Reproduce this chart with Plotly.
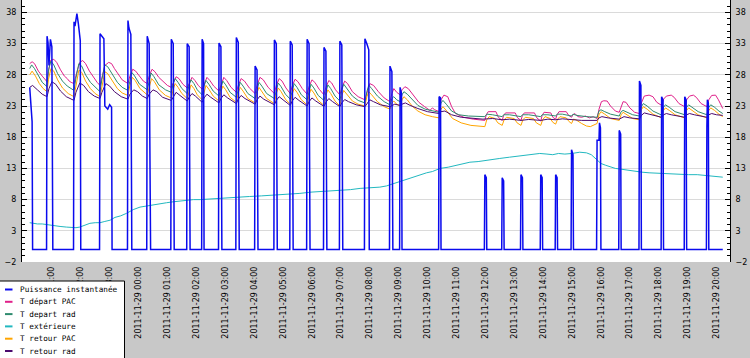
import pandas as pd
import plotly.graph_objects as go

START = pd.Timestamp("2011-11-28 20:00")

series_names = ["Puissance instantanée", "T départ PAC", "T depart rad",
                "T extérieure", "T retour PAC", "T retour rad"]
series_colors = ["#0a0aee", "#e0208a", "#2e8b6e", "#22b8c0", "#ffa500", "#4b0a6e"]

# (minutes after 2011-11-28 20:00, value)
puissance = [
    (14, 26.0), (16, 23.5), (18, 21.5), (19, 20.5), (20, 0.0), (49, 0.0),
    (50, 34.2), (52, 33.2), (54, 29.5), (57, 33.7), (60, 32.5), (62, 0.0), (105, 0.0),
    (106, 36.5), (108, 35.8), (110, 36.8), (112, 37.8), (115, 36.2), (117, 35.0), (119, 33.5), (120, 0.0), (159, 0.0),
    (160, 34.6), (164, 34.2), (168, 33.8), (170, 23.0), (176, 22.5), (180, 23.2), (184, 22.8), (185, 0.0), (217, 0.0),
    (218, 36.7), (220, 35.5), (224, 34.5), (226, 0.0), (257, 0.0),
    (258, 34.2), (262, 33.0), (265, 0.0), (307, 0.0),
    (308, 33.7), (312, 33.0), (314, 0.0), (340, 0.0),
    (341, 33.0), (345, 32.5), (347, 0.0), (371, 0.0),
    (372, 33.7), (375, 33.0), (376, 0.0), (406, 0.0),
    (407, 33.1), (411, 32.5), (413, 0.0), (442, 0.0),
    (443, 34.0), (447, 33.2), (449, 0.0), (481, 0.0),
    (482, 29.4), (486, 28.8), (488, 0.0), (521, 0.0),
    (522, 33.6), (526, 33.0), (528, 0.0), (554, 0.0),
    (555, 33.4), (559, 32.8), (561, 0.0), (589, 0.0),
    (590, 33.7), (594, 33.0), (596, 0.0), (624, 0.0),
    (625, 32.4), (629, 31.8), (631, 0.0), (657, 0.0),
    (658, 33.4), (662, 32.8), (664, 0.0), (709, 0.0),
    (710, 33.8), (714, 33.0), (718, 32.0), (719, 0.0), (761, 0.0),
    (762, 29.4), (766, 28.5), (768, 0.0), (782, 0.0),
    (783, 26.0), (786, 25.0), (787, 0.0), (863, 0.0),
    (864, 24.5), (867, 24.3), (868, 0.0), (958, 0.0),
    (959, 12.0), (962, 11.5), (963, 0.0), (994, 0.0),
    (995, 11.5), (998, 11.0), (999, 0.0), (1033, 0.0),
    (1034, 12.0), (1037, 11.5), (1038, 0.0), (1074, 0.0),
    (1075, 12.0), (1078, 11.5), (1079, 0.0), (1105, 0.0),
    (1106, 12.0), (1109, 11.5), (1110, 0.0), (1138, 0.0),
    (1139, 16.0), (1142, 15.2), (1143, 0.0), (1191, 0.0),
    (1192, 17.5), (1196, 17.5), (1197, 20.3), (1199, 19.5), (1200, 0.0), (1237, 0.0),
    (1238, 19.1), (1241, 18.5), (1242, 0.0), (1279, 0.0),
    (1280, 27.0), (1283, 26.3), (1284, 0.0), (1325, 0.0),
    (1326, 24.5), (1329, 24.0), (1330, 0.0), (1373, 0.0),
    (1374, 24.5), (1377, 24.0), (1378, 0.0), (1419, 0.0),
    (1420, 19.7), (1421, 24.0), (1423, 23.5), (1424, 0.0), (1453, 0.0),
]

t_depart_pac = [
    (14, 29.8), (19, 30.1), (24, 29.8), (32, 28.6), (40, 27.8), (46, 27.3), (50, 26.9),
    (53, 28.5), (57, 30.3), (64, 30.5), (70, 30.0), (78, 28.8), (86, 27.8), (92, 27.4), (96, 27.0), (100, 26.8), (106, 26.6),
    (112, 28.5), (118, 30.0), (124, 30.3), (130, 29.8), (138, 28.6), (146, 27.6), (154, 26.8), (160, 26.3),
    (164, 27.5), (170, 29.5), (178, 30.0), (184, 29.8), (190, 29.0), (198, 28.0), (206, 27.2), (214, 26.8), (218, 26.6),
    (222, 27.8), (228, 28.9), (234, 28.6), (242, 27.7), (250, 27.0), (258, 26.6),
    (262, 27.8), (268, 28.9), (274, 28.5), (282, 27.6), (292, 26.8), (300, 26.3), (308, 26.0),
    (312, 26.8), (318, 27.7), (324, 27.4), (332, 26.5), (341, 25.9),
    (345, 26.6), (351, 27.6), (357, 27.1), (364, 26.3), (372, 25.7),
    (376, 26.5), (382, 27.6), (388, 27.1), (396, 26.2), (407, 25.4),
    (411, 26.4), (417, 27.6), (423, 27.1), (432, 26.0), (443, 25.2),
    (447, 26.3), (453, 27.4), (460, 27.0), (470, 25.9), (482, 25.0),
    (486, 26.3), (492, 27.6), (499, 27.2), (509, 26.0), (522, 25.0),
    (526, 26.3), (532, 27.4), (538, 27.0), (546, 25.9), (555, 25.0),
    (559, 26.2), (565, 27.3), (571, 26.9), (580, 25.8), (590, 24.9),
    (594, 26.1), (600, 27.2), (606, 26.8), (615, 25.7), (625, 24.8),
    (629, 26.0), (635, 27.1), (641, 26.7), (649, 25.6), (658, 24.8),
    (662, 25.9), (668, 27.0), (674, 26.6), (684, 25.3), (696, 24.5), (710, 24.0),
    (714, 25.2), (720, 26.6), (728, 26.3), (738, 25.3), (750, 24.3), (762, 23.7),
    (766, 25.0), (770, 25.8), (776, 25.2), (783, 24.8),
    (787, 25.6), (793, 26.1), (800, 25.8), (810, 24.8), (822, 23.6), (834, 22.9), (845, 22.3), (850, 22.7), (855, 22.4), (864, 22.1),
    (868, 24.0), (874, 24.75), (882, 24.5), (890, 22.9), (898, 21.8), (915, 21.2), (935, 20.9), (959, 20.7),
    (962, 21.6), (966, 22.1), (982, 22.1), (987, 21.2), (995, 20.7),
    (998, 21.5), (1002, 21.9), (1022, 21.9), (1027, 21.1), (1034, 20.7),
    (1037, 21.5), (1041, 21.9), (1062, 21.9), (1067, 21.1), (1075, 20.6),
    (1078, 21.5), (1082, 22.0), (1096, 21.9), (1100, 21.2), (1106, 20.9),
    (1109, 21.6), (1113, 22.1), (1128, 22.1), (1133, 21.5), (1139, 21.2),
    (1142, 21.6), (1146, 21.8), (1152, 21.3), (1160, 21.2), (1168, 21.4), (1176, 21.1), (1184, 21.3), (1192, 21.0),
    (1196, 22.5), (1201, 23.7), (1206, 23.85), (1213, 23.8), (1220, 23.0), (1230, 22.2), (1238, 22.0),
    (1242, 23.0), (1246, 23.7), (1252, 23.6), (1260, 22.7), (1270, 22.0), (1280, 21.8),
    (1284, 23.5), (1290, 24.6), (1300, 24.75), (1308, 24.5), (1316, 23.6), (1326, 23.1),
    (1330, 24.1), (1336, 24.6), (1346, 24.75), (1352, 24.4), (1362, 23.4), (1374, 22.9),
    (1378, 24.0), (1384, 24.6), (1392, 24.75), (1398, 24.4), (1408, 23.4), (1420, 22.9),
    (1424, 24.0), (1430, 24.7), (1438, 24.75), (1444, 24.0), (1453, 22.6),
]

t_depart_rad = [
    (14, 29.0), (18, 29.6), (24, 29.0), (32, 27.8), (40, 26.8), (50, 26.1),
    (53, 28.8), (58, 30.2), (64, 29.6), (72, 28.2), (82, 27.0), (92, 26.2), (106, 25.5),
    (110, 27.5), (116, 29.8), (122, 29.4), (130, 28.0), (140, 26.8), (150, 26.0), (160, 25.3),
    (164, 27.3), (170, 29.6), (176, 29.3), (186, 28.0), (196, 26.8), (206, 26.0), (218, 25.5),
    (222, 27.0), (226, 28.4), (232, 27.8), (242, 26.5), (258, 25.6),
    (262, 27.0), (266, 28.3), (272, 27.7), (282, 26.4), (296, 25.6), (308, 25.2),
    (312, 26.6), (316, 27.4), (322, 26.8), (330, 25.8), (341, 25.0),
    (345, 26.4), (349, 27.2), (355, 26.6), (362, 25.6), (372, 24.8),
    (376, 26.2), (380, 27.1), (386, 26.5), (395, 25.4), (407, 24.6),
    (411, 26.0), (415, 27.0), (421, 26.4), (430, 25.2), (443, 24.4),
    (447, 25.8), (451, 26.8), (457, 26.2), (467, 25.0), (482, 24.2),
    (486, 25.8), (490, 26.8), (496, 26.2), (506, 25.0), (522, 24.2),
    (526, 25.7), (530, 26.7), (536, 26.1), (545, 24.9), (555, 24.1),
    (559, 25.6), (563, 26.6), (569, 26.0), (578, 24.8), (590, 24.0),
    (594, 25.5), (598, 26.5), (604, 25.9), (613, 24.7), (625, 23.9),
    (629, 25.4), (633, 26.4), (639, 25.8), (648, 24.6), (658, 23.8),
    (662, 25.6), (666, 26.5), (672, 25.9), (684, 24.6), (696, 23.9), (710, 23.5),
    (714, 25.3), (718, 26.35), (724, 25.8), (736, 24.6), (750, 23.7), (762, 23.2),
    (766, 24.2), (770, 24.5), (776, 24.0), (783, 23.7),
    (787, 24.8), (791, 25.3), (798, 24.9), (808, 24.0), (820, 23.1), (835, 22.5), (850, 22.2), (864, 22.0),
    (868, 23.5), (872, 23.9), (880, 23.2), (890, 22.2), (905, 21.6), (925, 21.4), (959, 21.3),
    (963, 21.7), (975, 21.6), (995, 21.3),
    (998, 21.6), (1010, 21.6), (1034, 21.3),
    (1037, 21.6), (1050, 21.6), (1075, 21.3),
    (1078, 21.6), (1090, 21.6), (1106, 21.4),
    (1109, 21.7), (1120, 21.7), (1139, 21.4),
    (1142, 21.7), (1150, 21.5), (1170, 21.3), (1192, 21.2),
    (1196, 22.2), (1200, 22.4), (1208, 22.1), (1220, 21.7), (1238, 21.4),
    (1242, 22.1), (1246, 22.3), (1254, 22.0), (1266, 21.6), (1280, 21.4),
    (1284, 22.9), (1288, 23.4), (1296, 23.0), (1308, 22.2), (1326, 21.55),
    (1330, 22.8), (1334, 23.2), (1342, 22.8), (1354, 22.1), (1374, 21.6),
    (1378, 22.8), (1382, 23.2), (1390, 22.8), (1402, 22.1), (1420, 21.6),
    (1424, 22.8), (1428, 23.2), (1436, 22.8), (1445, 22.2), (1453, 21.8),
]

t_exterieure = [
    (14, 4.3), (22, 4.2), (30, 4.1), (40, 4.1), (56, 3.9), (66, 3.8), (77, 3.7), (90, 3.6),
    (100, 3.5), (110, 3.5), (118, 3.6), (128, 3.9), (139, 4.2), (150, 4.3), (160, 4.3), (170, 4.5),
    (181, 4.7), (191, 5.15), (203, 5.4), (215, 5.8), (229, 6.4), (243, 6.8), (257, 7.0), (271, 7.2),
    (285, 7.4), (298, 7.5), (312, 7.65), (326, 7.8), (340, 7.9), (354, 8.0), (368, 8.0), (385, 8.1),
    (400, 8.1), (415, 8.2), (430, 8.3), (450, 8.4), (470, 8.5), (495, 8.6), (520, 8.7), (548, 8.9),
    (575, 9.0), (598, 9.2), (620, 9.3), (640, 9.4), (660, 9.5), (680, 9.6), (700, 9.8), (720, 9.9),
    (741, 10.0), (755, 10.2), (770, 10.6), (785, 11.0), (800, 11.3), (812, 11.7), (825, 12.0),
    (838, 12.3), (850, 12.5), (866, 13.0), (883, 13.2), (900, 13.5), (914, 13.8), (928, 14.0),
    (945, 14.1), (960, 14.3), (975, 14.5), (990, 14.6), (1010, 14.8), (1030, 15.0), (1050, 15.2),
    (1073, 15.4), (1088, 15.3), (1100, 15.2), (1112, 15.4), (1125, 15.3), (1140, 15.4), (1156, 15.6),
    (1170, 15.5), (1180, 15.2), (1190, 14.5), (1200, 13.8), (1210, 13.5), (1220, 13.2), (1230, 13.0),
    (1240, 12.9), (1255, 12.7), (1270, 12.6), (1285, 12.4), (1300, 12.3), (1320, 12.2), (1340, 12.1),
    (1364, 12.0), (1382, 12.0), (1400, 12.0), (1415, 11.9), (1430, 11.8), (1442, 11.7), (1453, 11.6),
]

t_retour_pac = [
    (14, 28.0), (19, 28.6), (26, 27.8), (34, 26.6), (42, 25.8), (50, 25.3),
    (53, 27.3), (58, 29.0), (64, 28.6), (72, 27.2), (82, 25.9), (94, 25.0), (106, 24.5),
    (110, 26.5), (116, 28.75), (122, 28.4), (130, 27.0), (140, 25.8), (150, 25.0), (160, 24.5),
    (164, 26.4), (170, 28.5), (176, 28.2), (186, 27.0), (196, 25.8), (206, 25.1), (218, 24.7),
    (222, 26.3), (227, 27.6), (233, 27.1), (243, 25.8), (258, 24.8),
    (262, 26.2), (267, 27.4), (273, 26.9), (283, 25.6), (296, 24.7), (308, 24.3),
    (312, 25.7), (316, 26.6), (322, 26.0), (330, 25.0), (341, 24.2),
    (345, 25.5), (349, 26.4), (355, 25.8), (362, 24.8), (372, 24.0),
    (376, 25.4), (380, 26.3), (386, 25.7), (395, 24.6), (407, 23.8),
    (411, 25.3), (415, 26.2), (421, 25.6), (430, 24.4), (443, 23.6),
    (447, 25.1), (451, 26.0), (457, 25.4), (467, 24.2), (482, 23.5),
    (486, 25.1), (490, 26.0), (496, 25.4), (506, 24.2), (522, 23.4),
    (526, 25.0), (530, 25.9), (536, 25.3), (545, 24.1), (555, 23.3),
    (559, 24.9), (563, 25.8), (569, 25.2), (578, 24.0), (590, 23.2),
    (594, 24.8), (598, 25.7), (604, 25.1), (613, 23.9), (625, 23.1),
    (629, 24.7), (633, 25.6), (639, 25.0), (648, 23.8), (658, 23.0),
    (662, 24.7), (666, 25.5), (672, 24.9), (684, 23.8), (696, 23.3), (710, 23.0),
    (714, 24.5), (718, 25.3), (724, 24.8), (736, 23.7), (750, 22.9), (762, 22.5),
    (766, 23.5), (770, 23.8), (776, 23.3), (783, 23.0),
    (787, 24.0), (791, 24.5), (798, 24.0), (808, 23.0), (820, 22.2), (835, 21.6), (850, 21.3), (864, 21.1),
    (868, 22.5), (872, 22.9), (880, 22.2), (892, 21.0), (910, 20.3), (930, 19.9), (959, 19.7),
    (963, 20.8), (968, 21.3), (980, 21.0), (986, 20.3), (995, 19.9),
    (999, 20.8), (1004, 21.2), (1020, 21.0), (1026, 20.3), (1034, 19.9),
    (1038, 20.8), (1043, 21.2), (1060, 21.0), (1066, 20.3), (1075, 19.9),
    (1079, 20.8), (1084, 21.3), (1095, 21.0), (1100, 20.4), (1106, 20.1),
    (1110, 20.9), (1115, 21.3), (1128, 21.1), (1134, 20.5), (1139, 20.2),
    (1143, 20.9), (1148, 20.8), (1160, 20.2), (1170, 19.8), (1178, 19.7), (1186, 20.0), (1192, 20.2),
    (1196, 21.6), (1200, 22.1), (1208, 21.7), (1220, 21.0), (1238, 20.7),
    (1242, 21.6), (1246, 22.0), (1254, 21.6), (1266, 21.0), (1280, 20.8),
    (1284, 22.4), (1288, 22.9), (1296, 22.5), (1308, 21.7), (1326, 21.1),
    (1330, 22.3), (1334, 22.7), (1342, 22.3), (1354, 21.6), (1374, 21.1),
    (1378, 22.3), (1382, 22.7), (1390, 22.3), (1402, 21.6), (1420, 21.1),
    (1424, 22.3), (1428, 22.7), (1436, 22.3), (1445, 21.7), (1453, 21.3),
]

t_retour_rad = [
    (14, 26.0), (20, 26.3), (30, 25.6), (40, 24.9), (50, 24.5),
    (54, 25.8), (60, 26.9), (68, 26.5), (78, 25.4), (90, 24.5), (106, 23.9),
    (110, 25.2), (118, 26.7), (126, 26.3), (136, 25.3), (148, 24.6), (160, 24.2),
    (164, 25.2), (172, 26.6), (180, 26.2), (190, 25.3), (204, 24.5), (218, 24.1),
    (222, 24.9), (230, 25.6), (238, 25.3), (248, 24.6), (258, 24.2),
    (262, 24.9), (270, 25.6), (278, 25.3), (290, 24.4), (308, 23.9),
    (312, 24.5), (318, 25.2), (326, 24.7), (341, 23.8),
    (345, 24.4), (351, 25.0), (358, 24.6), (372, 23.6),
    (376, 24.3), (382, 24.9), (390, 24.4), (407, 23.5),
    (411, 24.2), (417, 24.8), (425, 24.3), (443, 23.4),
    (447, 24.1), (453, 24.7), (461, 24.2), (482, 23.3),
    (486, 24.0), (492, 24.6), (500, 24.1), (522, 23.2),
    (526, 23.9), (532, 24.5), (540, 24.0), (555, 23.1),
    (559, 23.8), (565, 24.4), (573, 23.9), (590, 23.0),
    (594, 23.7), (600, 24.3), (608, 23.8), (625, 22.95),
    (629, 23.6), (635, 24.2), (643, 23.7), (658, 22.9),
    (662, 23.5), (668, 24.05), (676, 23.7), (692, 23.2), (710, 22.9),
    (714, 23.4), (720, 24.0), (728, 23.7), (742, 23.2), (762, 22.9),
    (766, 23.1), (772, 23.3), (783, 23.1),
    (787, 23.3), (794, 23.5), (804, 23.1), (820, 22.6), (840, 22.1), (864, 21.8),
    (868, 22.1), (876, 22.2), (890, 21.6), (910, 21.2), (935, 21.0), (955, 20.9),
    (975, 21.0), (995, 20.8), (1010, 20.9), (1034, 20.7), (1050, 20.85), (1075, 20.7),
    (1090, 20.9), (1106, 20.8), (1120, 20.95), (1139, 20.8), (1160, 20.7), (1192, 20.7),
    (1196, 21.1), (1202, 21.3), (1215, 21.1), (1238, 20.9),
    (1242, 21.1), (1248, 21.3), (1260, 21.1), (1280, 20.95),
    (1284, 21.5), (1290, 21.9), (1300, 21.7), (1326, 21.2),
    (1330, 21.6), (1336, 21.8), (1346, 21.6), (1374, 21.2),
    (1378, 21.6), (1384, 21.8), (1394, 21.6), (1420, 21.2),
    (1424, 21.6), (1430, 21.8), (1440, 21.6), (1453, 21.5),
]

tick_times = [
    "2011-11-28 21:00", "2011-11-28 22:00", "2011-11-28 23:00", "2011-11-29 00:00",
    "2011-11-29 01:00", "2011-11-29 02:00", "2011-11-29 03:00", "2011-11-29 04:00",
    "2011-11-29 05:00", "2011-11-29 06:00", "2011-11-29 07:00", "2011-11-29 08:00",
    "2011-11-29 09:00", "2011-11-29 10:00", "2011-11-29 11:00", "2011-11-29 12:00",
    "2011-11-29 13:00", "2011-11-29 14:00", "2011-11-29 15:00", "2011-11-29 16:00",
    "2011-11-29 17:00", "2011-11-29 18:00", "2011-11-29 19:00", "2011-11-29 20:00",
]
x_range = ["2011-11-28 19:58", "2011-11-29 20:28"]
y_range = [-2, 40]
y_ticks = [-2, 3, 8, 13, 18, 23, 28, 33, 38]


def to_xy(points):
    xs = [START + pd.Timedelta(minutes=m) for m, _ in points]
    ys = [v for _, v in points]
    return xs, ys


W, H = 750, 358
ML, MR, MT, MB = 22, 20, 0, 96
PW, PH = W - ML - MR, H - MT - MB


def px(xp):
    return (xp - ML) / PW


def py(yp):
    return (MT + PH - yp) / PH


fig = go.Figure()

data_series = [puissance, t_depart_pac, t_depart_rad, t_exterieure, t_retour_pac, t_retour_rad]
order = [1, 2, 3, 4, 5, 0]
for i in order:
    xs, ys = to_xy(data_series[i])
    fig.add_trace(go.Scatter(
        x=xs, y=ys, mode="lines", name=series_names[i],
        line=dict(color=series_colors[i], width=1.5 if i == 0 else 1),
        showlegend=False,
    ))

# helper so the right-hand axis is drawn
fig.add_trace(go.Scatter(x=[START], y=[None], yaxis="y2", showlegend=False,
                         hoverinfo="skip", mode="lines"))

axis_font = dict(family="DejaVu Sans", size=8, color="black")
yax = dict(
    range=y_range, tickmode="array", tickvals=y_ticks, showgrid=True,
    gridcolor="#dadada", gridwidth=1, zeroline=False, showline=True,
    linecolor="black", linewidth=1, ticks="inside", ticklen=5, tickcolor="black",
    tickfont=axis_font,
    minor=dict(tickmode="linear", tick0=-2, dtick=1, ticks="inside", ticklen=3,
               tickcolor="black", showgrid=False),
    ticklabelstandoff=3,
)

fig.update_layout(
    width=W, height=H, autosize=False,
    margin=dict(l=ML, r=MR, t=MT, b=MB, pad=0),
    paper_bgcolor="#c8c8c8", plot_bgcolor="white",
    showlegend=False,
    xaxis=dict(type="date", range=x_range, tickmode="array", tickvals=tick_times,
               tickformat="%Y-%m-%d %H:%M", tickangle=-90, showgrid=False,
               showline=False, zeroline=False, ticks="", tickfont=axis_font,
               ticklabelstandoff=2),
    yaxis=yax,
    yaxis2=dict(yax, overlaying="y", side="right", showgrid=False),
)

# legend box (bottom-left)
shapes = [dict(type="rect", xref="paper", yref="paper", layer="above",
               x0=px(-5), x1=px(124.5), y0=py(365), y1=py(281),
               fillcolor="white", line=dict(color="black", width=1))]
annotations = []
row_y = [289.5, 301.8, 314.1, 326.4, 338.7, 351.0]
for name, color, ry in zip(series_names, series_colors, row_y):
    shapes.append(dict(type="line", xref="paper", yref="paper", layer="above",
                       x0=px(5), x1=px(12.5), y0=py(ry), y1=py(ry),
                       line=dict(color=color, width=2)))
    annotations.append(dict(xref="paper", yref="paper", x=px(17.5), y=py(ry),
                            xanchor="left", yanchor="middle", showarrow=False,
                            text=name, font=dict(family="DejaVu Sans Mono", size=7.7, color="black")))
fig.update_layout(shapes=shapes, annotations=annotations)

fig.write_html("out.html",
               config={"displayModeBar": False},
               post_script="document.body.style.margin='0';document.body.style.overflow='hidden';")
